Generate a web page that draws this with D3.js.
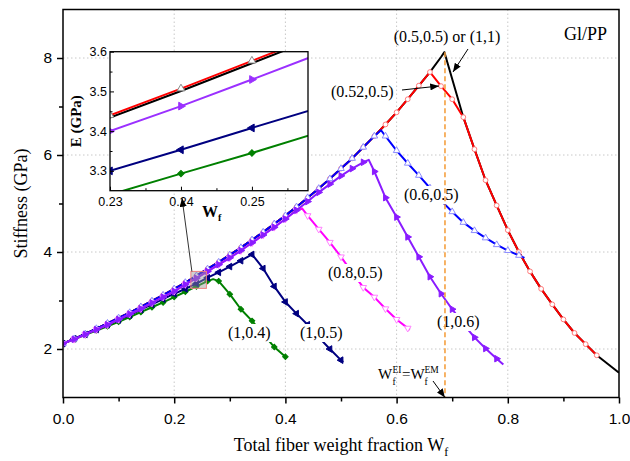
<!DOCTYPE html>
<html>
<head>
<meta charset="utf-8">
<script src="https://cdn.jsdelivr.net/npm/d3@7/dist/d3.min.js"></script>
<style>
  body { margin: 0; background: #fff; }
  svg { display: block; }
</style>
</head>
<body>
<div id="chart"></div>
<script>
// ---- data ----
const wfRise = [0, 0.02, 0.04, 0.06, 0.08, 0.10, 0.12, 0.14, 0.16, 0.18, 0.20, 0.22, 0.24, 0.26, 0.28, 0.30, 0.32,
  0.34, 0.36, 0.38, 0.40, 0.42, 0.44, 0.46, 0.48, 0.50, 0.52, 0.54, 0.56, 0.58, 0.60, 0.62, 0.64, 0.66];
const eRiseTop = [2.11, 2.21, 2.31, 2.42, 2.53, 2.64, 2.75, 2.87, 2.99, 3.11, 3.24, 3.37, 3.51, 3.65, 3.79, 3.94, 4.09,
  4.25, 4.41, 4.58, 4.75, 4.93, 5.12, 5.31, 5.51, 5.72, 5.93, 6.16, 6.39, 6.63, 6.88, 7.15, 7.43, 7.71];
const eRisePurple = [2.11, 2.20, 2.30, 2.40, 2.50, 2.61, 2.72, 2.83, 2.95, 3.07, 3.19, 3.33, 3.46, 3.60, 3.74, 3.88,
  4.03, 4.19, 4.35, 4.51, 4.68, 4.86, 5.04, 5.23, 5.40, 5.57, 5.72, 5.85];
const eRiseNavy = [2.11, 2.21, 2.30, 2.40, 2.50, 2.60, 2.70, 2.81, 2.92, 3.03, 3.14, 3.24, 3.35, 3.47, 3.58, 3.70, 3.82];
const eRiseGreen = [2.11, 2.20, 2.29, 2.38, 2.47, 2.56, 2.66, 2.76, 2.86, 2.96, 3.07, 3.18, 3.29, 3.40];

const blackTailWf = [0.68, 0.686, 0.72, 0.74, 0.76, 0.78, 0.80, 0.82, 0.84, 0.86, 0.88, 0.90, 0.92, 0.94, 0.96, 0.98, 1.00];
const blackTailE = [8.02, 8.12, 6.78, 6.12, 5.48, 4.96, 4.45, 4.00, 3.60, 3.24, 2.92, 2.61, 2.33, 2.10, 1.87, 1.69, 1.51];
const redTailWf = [0.68, 0.70, 0.72, 0.74, 0.76, 0.78, 0.80, 0.82, 0.84, 0.86, 0.88, 0.90, 0.92, 0.94, 0.96];
const redTailE = [7.42, 7.15, 6.78, 6.12, 5.48, 4.96, 4.45, 4.00, 3.60, 3.24, 2.92, 2.61, 2.33, 2.10, 1.87];
const blueTailWf = [0.572, 0.58, 0.60, 0.62, 0.64, 0.66, 0.68, 0.70, 0.72, 0.74, 0.76, 0.78, 0.80, 0.82, 0.83];
const blueTailE = [6.51, 6.39, 6.09, 5.83, 5.58, 5.32, 5.06, 4.83, 4.61, 4.44, 4.29, 4.15, 4.03, 3.93, 3.88];
const purpleTailWf = [0.55, 0.56, 0.58, 0.60, 0.62, 0.64, 0.66, 0.68, 0.70, 0.72, 0.74, 0.76, 0.78, 0.792];
const purpleTailE = [5.90, 5.66, 5.12, 4.72, 4.31, 3.90, 3.49, 3.14, 2.82, 2.52, 2.24, 2.01, 1.80, 1.68];
const magentaTailWf = [0.43, 0.44, 0.46, 0.48, 0.50, 0.52, 0.54, 0.56, 0.58, 0.60, 0.62, 0.624];
const magentaTailE = [4.90, 4.75, 4.47, 4.20, 3.90, 3.58, 3.27, 3.07, 2.83, 2.61, 2.43, 2.40];
const navyTailWf = [0.34, 0.36, 0.38, 0.40, 0.42, 0.44, 0.46, 0.48, 0.50, 0.504];
const navyTailE = [3.95, 3.66, 3.29, 2.97, 2.73, 2.50, 2.24, 2.00, 1.77, 1.73];
const greenTailWf = [0.27, 0.28, 0.30, 0.32, 0.34, 0.36, 0.38, 0.40, 0.402];
const greenTailE = [3.44, 3.40, 3.13, 2.82, 2.58, 2.31, 2.04, 1.84, 1.82];

const eqWf = 0.687;      // W_f^EI = W_f^EM
const eqPeakE = 8.12;

// inset (zoom on 0.23..0.258)
const insetWf = [0.23, 0.24, 0.25, 0.26];
const insetRed = [3.440, 3.507, 3.577, 3.647];
const insetBlack = [3.434, 3.501, 3.571, 3.641];
const insetPurple = [3.400, 3.463, 3.530, 3.598];
const insetNavy = [3.300, 3.353, 3.408, 3.462];
const insetGreen = [3.240, 3.293, 3.345, 3.400];

const xTicks = [0, 0.2, 0.4, 0.6, 0.8, 1.0];
const yTicks = [2, 4, 6, 8];
const insetXTicks = [0.23, 0.24, 0.25];
const insetYTicks = [3.3, 3.4, 3.5, 3.6];

// ---- helpers ----
function joinRise(riseE, maxWf, tailWf, tailE) {
  const pts = [];
  riseE.forEach((e, i) => { if (wfRise[i] <= maxWf + 1e-9) pts.push([wfRise[i], e]); });
  tailWf.forEach((w, i) => pts.push([w, tailE[i]]));
  return pts;
}
const onGrid = (w) => Math.abs(w * 50 - Math.round(w * 50)) < 1e-6;

const series = [
  { name: "black", pts: joinRise(eRiseTop, 0.66, blackTailWf, blackTailE), color: "#000000", sym: null },
  { name: "red", pts: joinRise(eRiseTop, 0.66, redTailWf, redTailE), color: "#ff0000", sym: "circle", mStroke: "#ff7a7a", mFill: "#ffffff" },
  { name: "green", pts: joinRise(eRiseGreen, 0.26, greenTailWf, greenTailE), color: "#008000", sym: "diamond", mStroke: "#008000", mFill: "#008000" },
  { name: "navy", pts: joinRise(eRiseNavy, 0.32, navyTailWf, navyTailE), color: "#000080", sym: "left", mStroke: "#000080", mFill: "#000080" },
  { name: "blue", pts: joinRise(eRiseTop, 0.56, blueTailWf, blueTailE), color: "#0000ff", sym: "up", mStroke: "#8c8cff", mFill: "#ffffff" },
  { name: "magenta", pts: joinRise(eRisePurple, 0.42, magentaTailWf, magentaTailE), color: "#ff00ff", sym: "down", mStroke: "#ff80ff", mFill: "#ffffff" },
  { name: "purple", pts: joinRise(eRisePurple, 0.54, purpleTailWf, purpleTailE), color: "#8a1cff", sym: "right", mStroke: "#8a1cff", mFill: "#8a1cff" }
];

function symbolPath(kind, size) {
  if (kind === "circle") return d3.symbol().type(d3.symbolCircle).size(size)();
  if (kind === "diamond") return d3.symbol().type(d3.symbolSquare).size(size * 0.8)();
  return d3.symbol().type(d3.symbolTriangle).size(size)();
}
function symbolRot(kind) {
  return { up: 0, down: 180, right: 90, left: -90, diamond: 45, circle: 0 }[kind] || 0;
}

// ---- layout ----
const W = 630, H = 461;
const L = 63, R = 619, T = 9.5, B = 397.5;
const serif = "'Liberation Serif', 'Times New Roman', serif";
const sans = "'Liberation Sans', Arial, sans-serif";

const svg = d3.select("#chart").append("svg").attr("width", W).attr("height", H);
svg.append("rect").attr("width", W).attr("height", H).attr("fill", "#fff");

const defs = svg.append("defs");
defs.append("marker").attr("id", "arr").attr("viewBox", "0 0 10 8").attr("refX", 10).attr("refY", 4)
  .attr("markerWidth", 9).attr("markerHeight", 7).attr("markerUnits", "userSpaceOnUse").attr("orient", "auto")
  .append("path").attr("d", "M0,0 L10,4 L0,8 Z").attr("fill", "#000");
defs.append("clipPath").attr("id", "plotClip").append("rect").attr("x", L).attr("y", T).attr("width", R - L).attr("height", B - T);

const x = d3.scaleLinear().domain([0, 1]).range([L, R]);
const y = d3.scaleLinear().domain([1, 9]).range([B, T]);

// grid
const grid = svg.append("g").attr("stroke", "#c8c8c8").attr("stroke-width", 1).attr("stroke-dasharray", "1.5,2.5");
grid.selectAll(".gx").data(xTicks.filter(d => d > 0 && d < 1)).join("line")
  .attr("x1", d => x(d)).attr("x2", d => x(d)).attr("y1", T).attr("y2", B);
grid.selectAll(".gy").data(yTicks).join("line")
  .attr("x1", L).attr("x2", R).attr("y1", d => y(d)).attr("y2", d => y(d));

// curves
const plot = svg.append("g").attr("clip-path", "url(#plotClip)");
const line = d3.line().x(d => x(d[0])).y(d => y(d[1]));
series.forEach(s => {
  plot.append("path").datum(s.pts).attr("d", line).attr("fill", "none")
    .attr("stroke", s.color).attr("stroke-width", 2).attr("stroke-linejoin", "round");
  if (s.sym) {
    plot.selectAll(null).data(s.pts.filter(p => onGrid(p[0]))).join("path")
      .attr("d", symbolPath(s.sym, s.sym === "circle" ? 18 : 19))
      .attr("transform", p => `translate(${x(p[0])},${y(p[1])}) rotate(${symbolRot(s.sym)})`)
      .attr("fill", s.mFill).attr("stroke", s.mStroke).attr("stroke-width", 1);
  }
});

// labels with white background
function label(txt, lx, ly, opts = {}) {
  const g = svg.append("g");
  const t = g.append("text").attr("x", lx).attr("y", ly).attr("font-family", serif)
    .attr("font-size", opts.size || 16).attr("text-anchor", opts.anchor || "start").attr("fill", "#000").text(txt);
  if (opts.bg) {
    const b = t.node().getBBox();
    g.insert("rect", "text").attr("x", b.x - 1).attr("y", b.y).attr("width", b.width + 2).attr("height", b.height)
      .attr("fill", "#fff");
  }
  return g;
}
label("(0.6,0.5)", 404, 200, { bg: true });
label("(0.8,0.5)", 328, 278, { bg: true });
label("(1,0.4)", 228, 338, { bg: true });
label("(1,0.5)", 300, 338, { bg: true });
label("(1,0.6)", 437, 327, { bg: true });
label("(0.52,0.5)", 331, 97);
label("(0.5,0.5) or (1,1)", 447, 42, { anchor: "middle" });
label("Gl/PP", 607, 40, { anchor: "end", size: 18 });

// equal-weight-fraction line
svg.append("line").attr("x1", x(eqWf)).attr("x2", x(eqWf)).attr("y1", y(eqPeakE)).attr("y2", B)
  .attr("stroke", "#f5a040").attr("stroke-width", 1.6).attr("stroke-dasharray", "5,3");

// W_f^EI = W_f^EM, built piece by piece
function piece(txt, px, py, size) {
  svg.append("text").attr("x", px).attr("y", py).attr("font-family", serif).attr("font-size", size).text(txt);
}
piece("W", 378, 379, 15);
piece("EI", 392.5, 373, 9.5);
piece("f", 392.5, 385, 9.5);
piece("=W", 402, 379, 15);
piece("EM", 424.5, 373, 9.5);
piece("f", 424.5, 385, 9.5);

// arrows
const arrows = [
  [433, 381, x(eqWf), B],
  [402, 90, 439, 86],
  [468, 49, 453, 72]
];
svg.selectAll(".arrow").data(arrows).join("line")
  .attr("x1", d => d[0]).attr("y1", d => d[1]).attr("x2", d => d[2]).attr("y2", d => d[3])
  .attr("stroke", "#000").attr("stroke-width", 1).attr("marker-end", "url(#arr)");

// ---- inset ----
const IL = 110, IR = 308, IT = 51.7, IB = 190.7;
const ix = d3.scaleLinear().domain([0.23, 0.2579]).range([IL, IR]);
const iy = d3.scaleLinear().domain([3.25, 3.6]).range([IB, IT]);

// zoom box on main plot + arrow to inset
svg.append("rect").attr("x", x(0.23)).attr("y", y(3.6)).attr("width", x(0.2579) - x(0.23)).attr("height", y(3.25) - y(3.6))
  .attr("fill", "rgba(150,150,150,0.45)").attr("stroke", "#f08080").attr("stroke-width", 1);
svg.append("line").attr("x1", x(0.23) + 1).attr("y1", y(3.6)).attr("x2", 182).attr("y2", 198)
  .attr("stroke", "#333").attr("stroke-width", 1).attr("marker-end", "url(#arr)");

svg.append("rect").attr("x", IL).attr("y", IT).attr("width", IR - IL).attr("height", IB - IT).attr("fill", "#fff");
defs.append("clipPath").attr("id", "insetClip").append("rect").attr("x", IL).attr("y", IT).attr("width", IR - IL).attr("height", IB - IT);
const ig = svg.append("g").attr("clip-path", "url(#insetClip)");
const insetSeries = [
  { vals: insetBlack, color: "#000", sym: null },
  { vals: insetRed, color: "#ff0000", sym: "up", mStroke: "#888", mFill: "#fff" },
  { vals: insetPurple, color: "#9b30ff", sym: "right", mStroke: "#9b30ff", mFill: "#9b30ff" },
  { vals: insetNavy, color: "#000080", sym: "left", mStroke: "#000080", mFill: "#000080" },
  { vals: insetGreen, color: "#008000", sym: "diamond", mStroke: "#008000", mFill: "#008000" }
];
const iline = d3.line().x(d => ix(d[0])).y(d => iy(d[1]));
insetSeries.forEach(s => {
  const pts = insetWf.map((w, i) => [w, s.vals[i]]);
  ig.append("path").datum(pts).attr("d", iline).attr("fill", "none").attr("stroke", s.color).attr("stroke-width", 2);
  if (s.sym) {
    ig.selectAll(null).data(pts).join("path").attr("d", symbolPath(s.sym, 26))
      .attr("transform", p => `translate(${ix(p[0])},${iy(p[1])}) rotate(${symbolRot(s.sym)})`)
      .attr("fill", s.mFill).attr("stroke", s.mStroke).attr("stroke-width", 1);
  }
});

const ixAxis = svg.append("g").attr("transform", `translate(0,${IB})`)
  .call(d3.axisBottom(ix).tickValues(insetXTicks).tickFormat(d3.format(".2f")).tickSizeInner(-4).tickSizeOuter(0).tickPadding(6));
const ixMinor = svg.append("g").attr("transform", `translate(0,${IB})`)
  .call(d3.axisBottom(ix).tickValues([0.235, 0.245, 0.255]).tickFormat("").tickSizeInner(-2.5).tickSizeOuter(0));
const iyAxis = svg.append("g").attr("transform", `translate(${IL},0)`)
  .call(d3.axisLeft(iy).tickValues(insetYTicks).tickFormat(d3.format(".1f")).tickSizeInner(-4).tickSizeOuter(0).tickPadding(3));
const iyMinor = svg.append("g").attr("transform", `translate(${IL},0)`)
  .call(d3.axisLeft(iy).tickValues([3.35, 3.45, 3.55]).tickFormat("").tickSizeInner(-2.5).tickSizeOuter(0));
[ixAxis, ixMinor, iyAxis, iyMinor].forEach(a => {
  a.select(".domain").remove();
  a.selectAll("text").attr("font-family", sans).attr("font-size", 12.5).attr("fill", "#000");
  a.selectAll("line").attr("stroke", "#000");
});
svg.append("rect").attr("x", IL).attr("y", IT).attr("width", IR - IL).attr("height", IB - IT)
  .attr("fill", "none").attr("stroke", "#000").attr("stroke-width", 1.3);
svg.append("text").attr("transform", `translate(81,${(IT + IB) / 2}) rotate(-90)`).attr("text-anchor", "middle")
  .attr("font-family", serif).attr("font-weight", "bold").attr("font-size", 15).text("E (GPa)");
const iwt = svg.append("text").attr("x", 202).attr("y", 217).attr("font-family", serif).attr("font-weight", "bold").attr("font-size", 16);
iwt.append("tspan").text("W");
iwt.append("tspan").attr("font-size", 10).attr("dy", 4).text("f");

// ---- main axes ----
const xAxis = svg.append("g").attr("transform", `translate(0,${B})`)
  .call(d3.axisBottom(x).tickValues(xTicks).tickFormat(d3.format(".1f")).tickSizeInner(6).tickSizeOuter(0).tickPadding(9));
const xMinor = svg.append("g").attr("transform", `translate(0,${B})`)
  .call(d3.axisBottom(x).tickValues([0.1, 0.3, 0.5, 0.7, 0.9]).tickFormat("").tickSizeInner(4).tickSizeOuter(0));
const yAxis = svg.append("g").attr("transform", `translate(${L},0)`)
  .call(d3.axisLeft(y).tickValues(yTicks).tickFormat(d3.format("d")).tickSizeInner(6).tickSizeOuter(0).tickPadding(5));
const yMinor = svg.append("g").attr("transform", `translate(${L},0)`)
  .call(d3.axisLeft(y).tickValues([3, 5, 7]).tickFormat("").tickSizeInner(4).tickSizeOuter(0));
[xAxis, xMinor, yAxis, yMinor].forEach(a => {
  a.select(".domain").remove();
  a.selectAll("text").attr("font-family", sans).attr("font-size", 15.5).attr("fill", "#000");
  a.selectAll("line").attr("stroke", "#000").attr("stroke-width", 1.5);
});
svg.append("rect").attr("x", L).attr("y", T).attr("width", R - L).attr("height", B - T)
  .attr("fill", "none").attr("stroke", "#000").attr("stroke-width", 1.5);

const xt = svg.append("text").attr("x", (L + R) / 2).attr("y", 451).attr("text-anchor", "middle")
  .attr("font-family", serif).attr("font-size", 18);
xt.append("tspan").text("Total fiber weight fraction W");
xt.append("tspan").attr("font-size", 12).attr("dy", 5).text("f");
svg.append("text").attr("transform", `translate(27,${(T + B) / 2}) rotate(-90)`).attr("text-anchor", "middle")
  .attr("font-family", serif).attr("font-size", 18).text("Stiffness (GPa)");
</script>
</body>
</html>
